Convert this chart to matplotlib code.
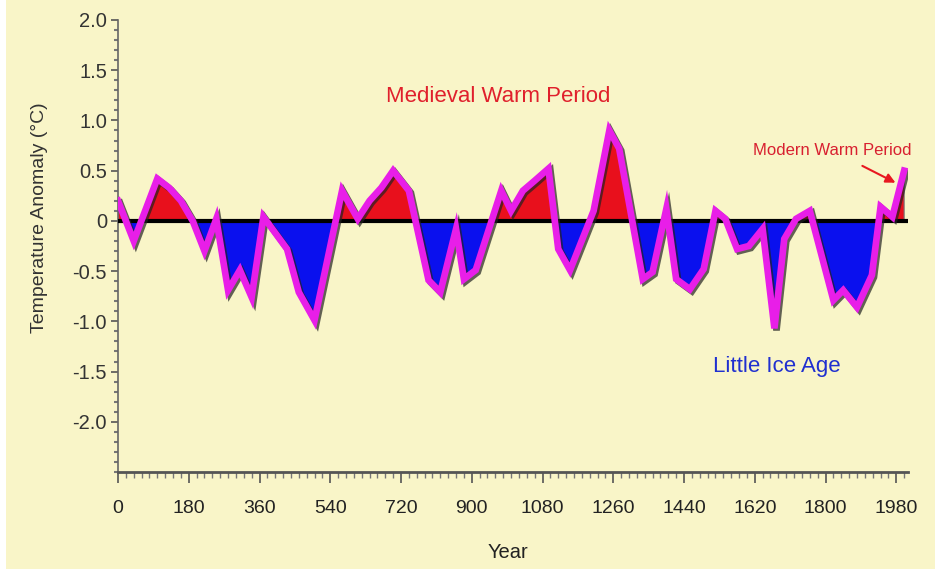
import numpy as np
import matplotlib
matplotlib.use('Agg')
import matplotlib.pyplot as plt
import matplotlib.patheffects as pe
from matplotlib.patches import Rectangle
from matplotlib.ticker import MultipleLocator

plt.rcParams['font.family'] = ['Liberation Sans', 'DejaVu Sans']

# reconstructed temperature anomaly (deg C) by year
years = [0, 40, 100, 130, 160, 190, 220, 250, 280, 310, 340, 370, 430, 460, 500,
         570, 610, 640, 670, 700, 740, 790, 820, 860, 880, 910, 975, 1000, 1030,
         1060, 1095, 1120, 1150, 1210, 1250, 1275, 1335, 1360, 1395, 1420, 1455,
         1490, 1520, 1545, 1575, 1605, 1640, 1670, 1695, 1725, 1760, 1820, 1845,
         1880, 1918, 1940, 1970, 2000]
anomaly = [0.2, -0.2, 0.42, 0.33, 0.2, 0.0, -0.3, 0.02, -0.69, -0.49, -0.76, 0.04,
           -0.28, -0.71, -0.99, 0.3, 0.02, 0.2, 0.33, 0.5, 0.3, -0.59, -0.71, -0.08,
           -0.58, -0.49, 0.3, 0.1, 0.3, 0.4, 0.52, -0.28, -0.49, 0.1, 0.9, 0.72,
           -0.58, -0.51, 0.12, -0.58, -0.68, -0.48, 0.1, 0.02, -0.28, -0.25, -0.08,
           -1.07, -0.18, 0.02, 0.1, -0.79, -0.69, -0.86, -0.54, 0.14, 0.04, 0.5]

x_ticks = list(range(0, 1981, 180))
y_ticks = [-2.0, -1.5, -1.0, -0.5, 0, 0.5, 1.0, 1.5, 2.0]
y_labels = ['-2.0', '-1.5', '-1.0', '-0.5', '0', '0.5', '1.0', '1.5', '2.0']

bg = '#F9F5C8'
fig = plt.figure(figsize=(9.35, 5.74), dpi=100, facecolor='white')
fig.patches.append(Rectangle((0.006, 0.009), 0.994, 0.991, transform=fig.transFigure,
                             facecolor=bg, edgecolor='none', zorder=-10))
ax = fig.add_axes([0.1262, 0.1777, 0.845, 0.7875])
ax.patch.set_alpha(0)

x = np.array(years, dtype=float)
y = np.array(anomaly)
ax.fill_between(x, y, 0, where=y >= 0, interpolate=True, color='#E8101C',
                edgecolor='#777777', linewidth=0.8, zorder=2)
ax.fill_between(x, y, 0, where=y <= 0, interpolate=True, color='#0A10EE',
                edgecolor='#777777', linewidth=0.8, zorder=2)
ax.axhline(0, xmin=0, xmax=0.998, color='black', linewidth=3, zorder=3)
ax.plot(x, y, color='#E81EE8', linewidth=4.8, solid_joinstyle='miter', zorder=4,
        path_effects=[pe.SimpleLineShadow(offset=(1.5, -1.5), shadow_color='#222222', alpha=0.7),
                      pe.Normal()])

ax.set_xlim(0, 2010)
ax.set_ylim(-2.5, 2.0)
ax.set_xticks(x_ticks)
ax.set_xticklabels([str(v) for v in x_ticks], fontsize=14, color='#222222')
ax.xaxis.set_minor_locator(MultipleLocator(20))
ax.set_yticks(y_ticks)
ax.set_yticklabels(y_labels, fontsize=14.5, color='#333333')
ax.yaxis.set_minor_locator(MultipleLocator(0.1))
ax.tick_params(axis='x', which='major', length=8, width=1.2, color='#555555', pad=12)
ax.tick_params(axis='x', which='minor', length=4, width=1, color='#777777')
ax.tick_params(axis='y', which='major', length=5, width=1.2, color='#555555', pad=3)
ax.tick_params(axis='y', which='minor', length=3, width=1.5, color='#777777')
for s in ['top', 'right']:
    ax.spines[s].set_visible(False)
ax.spines['left'].set_color('#666666')
ax.spines['bottom'].set_color('#555555')
ax.spines['bottom'].set_linewidth(2)
ax.spines['left'].set_linewidth(1.2)

ax.set_xlabel('Year', fontsize=14.5, color='#222222')
ax.xaxis.set_label_coords(0.494, -0.157)
ax.set_ylabel('Temperature Anomaly (\u00b0C)', fontsize=14, color='#333333')
ax.yaxis.set_label_coords(-0.089, 0.562)

ax.text(0.481, 0.830, 'Medieval Warm Period', transform=ax.transAxes, fontsize=16,
        color='#E0202C', ha='center', va='center')
ax.text(0.834, 0.2345, 'Little Ice Age', transform=ax.transAxes, fontsize=16,
        color='#2030D0', ha='center', va='center')
ax.annotate('Modern Warm Period', xy=(1978, 0.38), xytext=(1817, 0.7), fontsize=12,
            color='#D82030', ha='center', va='center',
            arrowprops=dict(arrowstyle='-|>', color='#E81820', lw=1.5, mutation_scale=14,
                            shrinkA=8, shrinkB=0))

plt.savefig('out.png', dpi=100, facecolor=fig.get_facecolor())
plt.close()
